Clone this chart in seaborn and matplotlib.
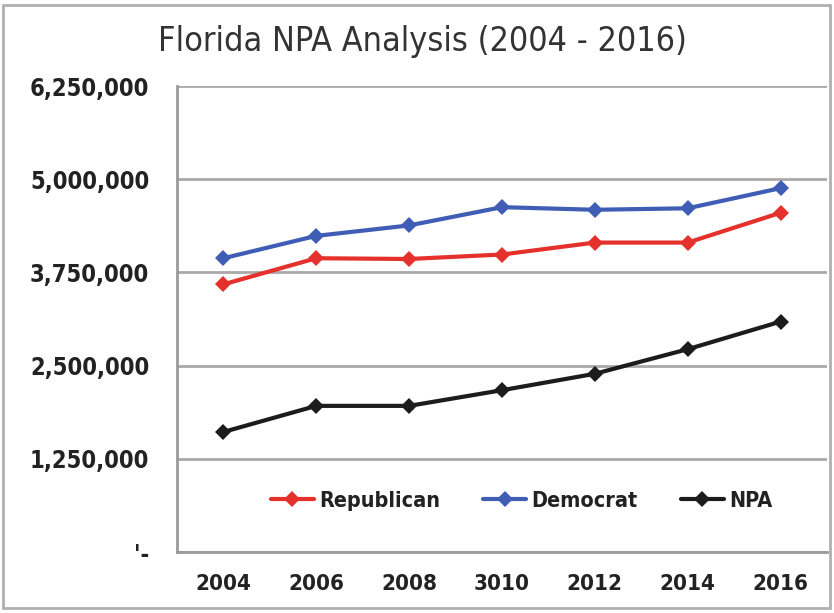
import pandas as pd
import matplotlib.pyplot as plt
import matplotlib.ticker as mticker
from matplotlib.patches import Rectangle
import seaborn as sns

# values (the "3010" label is in the original)
years = ["2004", "2006", "2008", "3010", "2012", "2014", "2016"]
republican = [3590000, 3940000, 3930000, 3990000, 4150000, 4150000, 4550000]
democrat = [3940000, 4240000, 4380000, 4625000, 4590000, 4610000, 4880000]
npa = [1610000, 1960000, 1960000, 2170000, 2390000, 2720000, 3090000]

y_ticks = [0, 1250000, 2500000, 3750000, 5000000, 6250000]

df = pd.DataFrame({
    "year": years * 3,
    "voters": republican + democrat + npa,
    "party": ["Republican"] * 7 + ["Democrat"] * 7 + ["NPA"] * 7,
})

sns.set_style("white")
plt.rcParams['font.family'] = ['DejaVu Sans']
party_colors = {"Republican": "#e5312c", "Democrat": "#3f5db4", "NPA": "#1c1c1c"}

fig = plt.figure(figsize=(8.34, 6.13), dpi=100)
ax = fig.add_axes([0.2122, 0.0995, 0.7794, 0.7602])

sns.lineplot(data=df, x="year", y="voters", hue="party", palette=party_colors,
             sort=False, marker="D", markersize=8, markeredgewidth=0,
             linewidth=3, ax=ax)

ax.set_xlim(-0.5, 6.5)
ax.set_ylim(0, 6250000)
ax.set_yticks(y_ticks)
ax.set_yticklabels(["'-" if v == 0 else f"{v:,}" for v in y_ticks])
ax.set_xticks(range(len(years)))
ax.set_xticklabels(years)
ax.xaxis.set_minor_locator(mticker.FixedLocator([i - 0.5 for i in range(len(years) + 1)]))

# gray gridlines + spines like the original
ax.yaxis.grid(True, color="#a9a9a9", linewidth=2)
ax.set_axisbelow(True)
for s in ["top", "right"]:
    ax.spines[s].set_visible(False)
for s in ["left", "bottom"]:
    ax.spines[s].set_color("#9a9a9a")
    ax.spines[s].set_linewidth(2)

ax.tick_params(axis="y", which="major", length=6, width=1.5, color="#9a9a9a",
               labelsize=17, pad=14)
ax.tick_params(axis="x", which="major", length=0, labelsize=16, pad=16)
ax.tick_params(axis="x", which="minor", length=6, width=1.5, color="#9a9a9a")
for lab in ax.get_xticklabels() + ax.get_yticklabels():
    lab.set_fontweight("bold")
    lab.set_fontstretch("condensed")
    lab.set_color("#222222")

ax.set_xlabel("")
ax.set_ylabel("")

leg = ax.legend(loc="center", bbox_to_anchor=(0.53, 0.11), ncol=3, frameon=False,
                fontsize=15.5, handlelength=2.0, handletextpad=0.25, columnspacing=2.0)
for t in leg.get_texts():
    t.set_fontweight("bold")
    t.set_fontstretch("condensed")
    t.set_color("#222222")

fig.text(0.507, 0.933, "Florida NPA Analysis (2004 - 2016)", ha="center", va="center",
         fontsize=24.5, color="#333333", fontstretch="condensed")

# outer frame around the picture
fig.patches.append(Rectangle((0.004, 0.008), 0.991, 0.984, transform=fig.transFigure,
                             fill=False, edgecolor="#b0b0b0", linewidth=2))

plt.savefig("out.png", dpi=100)
